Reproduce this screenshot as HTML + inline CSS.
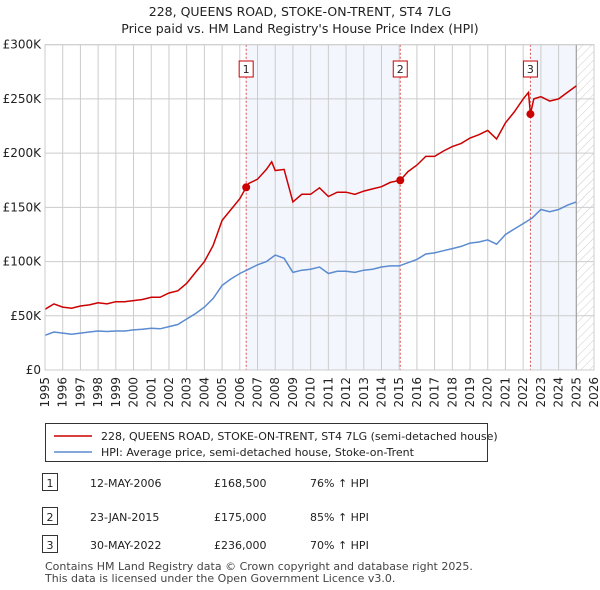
<!DOCTYPE html>
<html><head><meta charset="utf-8"><style>
body{margin:0;background:#fff;font-family:"Liberation Sans","DejaVu Sans",sans-serif;}
#wrap{position:relative;width:600px;height:590px;overflow:hidden;}
svg text{font-family:"DejaVu Sans","Liberation Sans",sans-serif;}
</style></head><body><div id="wrap">
<svg id="chart" width="600" height="590"></svg>
</div>
<script>
const yTicks=[0,50,100,150,200,250,300];
const yTickLabels=["£0","£50K","£100K","£150K","£200K","£250K","£300K"];
const xYears=[1995,1996,1997,1998,1999,2000,2001,2002,2003,2004,2005,2006,2007,2008,2009,2010,2011,2012,2013,2014,2015,2016,2017,2018,2019,2020,2021,2022,2023,2024,2025,2026];
const hpiT=[1995,1995.5,1996,1996.5,1997,1997.5,1998,1998.5,1999,1999.5,2000,2000.5,2001,2001.5,2002,2002.5,2003,2003.5,2004,2004.5,2005,2005.5,2006,2006.5,2007,2007.5,2008,2008.5,2009,2009.5,2010,2010.5,2011,2011.5,2012,2012.5,2013,2013.5,2014,2014.5,2015,2015.5,2016,2016.5,2017,2017.5,2018,2018.5,2019,2019.5,2020,2020.5,2021,2021.5,2022,2022.5,2023,2023.5,2024,2024.5,2025];
const hpiV=[32,35,34,33,34,35,36,35.5,36,36,37,37.5,38.5,38,40,42,47,52,58,66,78,84,89,93,97,100,106,103,90,92,93,95,89,91,91,90,92,93,95,96,96,99,102,107,108,110,112,114,117,118,120,116,125,130,135,140,148,146,148,152,155];
const priceT=[1995,1995.5,1996,1996.5,1997,1997.5,1998,1998.5,1999,1999.5,2000,2000.5,2001,2001.5,2002,2002.5,2003,2003.5,2004,2004.5,2005,2005.5,2006,2006.36,2006.5,2007,2007.5,2007.8,2008,2008.5,2009,2009.5,2010,2010.5,2011,2011.5,2012,2012.5,2013,2013.5,2014,2014.5,2015.06,2015.5,2016,2016.5,2017,2017.5,2018,2018.5,2019,2019.5,2020,2020.5,2021,2021.5,2022,2022.3,2022.41,2022.6,2023,2023.5,2024,2024.5,2025];
const priceV=[56,61,58,57,59,60,62,61,63,63,64,65,67,67,71,73,80,90,100,115,138,148,158,168.5,172,176,185,192,184,185,155,162,162,168,160,164,164,162,165,167,169,173,175,183,189,197,197,202,206,209,214,217,221,213,228,238,250,256,236,250,252,248,250,256,262];
const saleT=[2006.36,2015.06,2022.41];
const saleV=[168.5,175,236];
const saleLabels=["1","2","3"];
const X0=45,X1=594,Y0=370,Y1=44.7;
const xs=t=>X0+(t-1995)/(2026-1995)*(X1-X0);
const ys=v=>Y0-v/300*(Y0-Y1);
const NS="http://www.w3.org/2000/svg";
const svg=document.getElementById('chart');
function el(tag,attrs,parent){const e=document.createElementNS(NS,tag);for(const k in attrs)e.setAttribute(k,attrs[k]);(parent||svg).appendChild(e);return e;}
// defs hatch
const defs=el('defs',{});
const pat=el('pattern',{id:'hatch',width:6,height:6,patternUnits:'userSpaceOnUse',patternTransform:'rotate(45)'},defs);
el('line',{x1:0,y1:0,x2:0,y2:6,stroke:'#ccc','stroke-width':1},pat);
// shading
let r=el('rect',{x:xs(saleT[0]),y:Y1,width:xs(saleT[1])-xs(saleT[0]),height:Y0-Y1,fill:'#eef2fc',opacity:0.7});


r=el('rect',{x:xs(saleT[2]),y:Y1,width:xs(2025)-xs(saleT[2]),height:Y0-Y1,fill:'#eef2fc',opacity:0.7});


r=el('rect',{x:xs(2025),y:Y1,width:X1-xs(2025),height:Y0-Y1,fill:'url(#hatch)'});


// grid
xYears.forEach(y=>{const l=el('line',{x1:xs(y),x2:xs(y),y1:Y1,y2:Y0,stroke:'#ccc','stroke-width':1});


const t=el('text',{x:0,y:0,'font-size':12,fill:'#222','text-anchor':'end',transform:`translate(${xs(y)+4},${Y0+7}) rotate(-90)`});t.textContent=y;

});
yTicks.forEach((v,i)=>{const l=el('line',{x1:X0,x2:X1,y1:ys(v),y2:ys(v),stroke:'#ccc','stroke-width':1});


const t=el('text',{x:X0-4,y:ys(v)+4,'font-size':12,fill:'#222','text-anchor':'end'});t.textContent=yTickLabels[i];

});
let sep=el('line',{x1:xs(2025),x2:xs(2025),y1:Y1,y2:Y0,stroke:'#999','stroke-width':1});


// sale lines
saleT.forEach((t,i)=>{const l=el('line',{x1:xs(t),x2:xs(t),y1:Y1,y2:Y0,stroke:'#e05050','stroke-width':1,'stroke-dasharray':'2,2'});


const b=el('rect',{x:xs(t)-7,y:61,width:14,height:16,fill:'#fff',stroke:'#c00'});


const tx=el('text',{x:xs(t),y:73,'font-size':11,'text-anchor':'middle',fill:'#222'});tx.textContent=saleLabels[i];

});
// lines
function path(T,V,c,name){const d=T.map((t,i)=>(i?'L':'M')+xs(t).toFixed(1)+','+ys(V[i]).toFixed(1)).join('');
const p=el('path',{d,fill:'none',stroke:c,'stroke-width':1.5});

}
path(hpiT,hpiV,'#5b8bd0','hpi-line');
path(priceT,priceV,'#cc0000','price-line');
saleT.forEach((t,i)=>{const c=el('circle',{cx:xs(t),cy:ys(saleV[i]),r:4,fill:'#cc0000'});

});
// border
el('rect',{x:X0,y:Y1,width:X1-X0,height:Y0-Y1,fill:'none',stroke:'#ccc'});
// titles
let t=el('text',{x:300,y:16,'font-size':12.5,'text-anchor':'middle',fill:'#222'});t.textContent='228, QUEENS ROAD, STOKE-ON-TRENT, ST4 7LG';


t=el('text',{x:300,y:33,'font-size':12.5,'text-anchor':'middle',fill:'#222'});t.textContent="Price paid vs. HM Land Registry's House Price Index (HPI)";


// legend
const lg=el('g',{});


el('rect',{x:45.5,y:423.5,width:442,height:38,fill:'#fff',stroke:'#333'},lg);
el('line',{x1:54,x2:92,y1:436,y2:436,stroke:'#cc0000','stroke-width':1.5},lg);
el('line',{x1:54,x2:92,y1:452,y2:452,stroke:'#5b8bd0','stroke-width':1.5},lg);
t=el('text',{x:101,y:440,'font-size':11,fill:'#222'},lg);t.textContent='228, QUEENS ROAD, STOKE-ON-TRENT, ST4 7LG (semi-detached house)';


t=el('text',{x:101,y:456,'font-size':11,fill:'#222'},lg);t.textContent='HPI: Average price, semi-detached house, Stoke-on-Trent';


// table
const rows=[["12-MAY-2006","£168,500","76% ↑ HPI",483],["23-JAN-2015","£175,000","85% ↑ HPI",517],["30-MAY-2022","£236,000","70% ↑ HPI",545]];
rows.forEach((rw,i)=>{const b=el('rect',{x:42.5,y:rw[3]-9.5,width:15,height:17,fill:'#fff',stroke:'#333'});


let tt=el('text',{x:50,y:rw[3]+4,'font-size':11,'text-anchor':'middle',fill:'#222'});tt.textContent=saleLabels[i];
tt=el('text',{x:90,y:rw[3]+4,'font-size':11,fill:'#222'});tt.textContent=rw[0];


tt=el('text',{x:214,y:rw[3]+4,'font-size':11,fill:'#222'});tt.textContent=rw[1];


tt=el('text',{x:310,y:rw[3]+4,'font-size':11,fill:'#222'});tt.textContent=rw[2];

});
t=el('text',{x:45,y:570,'font-size':11,fill:'#444'});t.textContent='Contains HM Land Registry data © Crown copyright and database right 2025.';


t=el('text',{x:45,y:582,'font-size':11,fill:'#444'});t.textContent='This data is licensed under the Open Government Licence v3.0.';


</script></body></html>
